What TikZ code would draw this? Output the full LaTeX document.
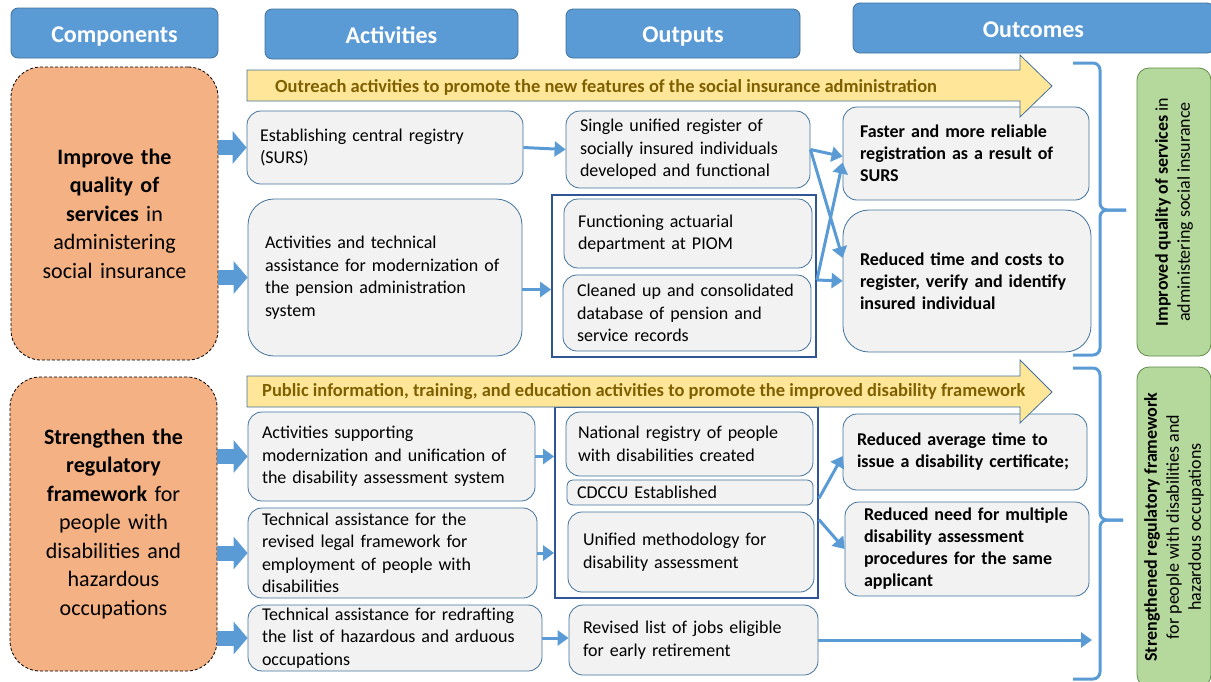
\documentclass[tikz,border=0pt]{standalone}
\usepackage{fontspec}
\setmainfont{Carlito}
\usepackage{tikz}
\usetikzlibrary{arrows.meta,positioning,calc}
\hyphenpenalty=10000
\definecolor{hdblue}{HTML}{5B9BD5}
\definecolor{hdline}{HTML}{41719C}
\definecolor{compfill}{HTML}{F4B183}
\definecolor{boxfill}{HTML}{F2F2F2}
\definecolor{grpline}{HTML}{2F5597}
\definecolor{banfill}{HTML}{FFE699}
\definecolor{bantext}{HTML}{7F6000}
\definecolor{goalfill}{HTML}{B5D89C}
\definecolor{goalline}{HTML}{5E8C46}
% A box given by its two corners: \pnode[inset]{name}{style}{x1}{y1}{x2}{y2}{text}
\newcommand*{\pnode}[8][14]{%
  \pgfmathsetmacro{\tw}{#6-#4-2*#1}%
  \pgfmathsetmacro{\bh}{#7-#5}%
  \node[#3,inner xsep=#1pt,inner ysep=0pt,text width=\tw pt,minimum height=\bh pt] (#2) at ({(#4+#6)/2},{(#5+#7)/2}) {#8};}

\begin{document}
\begin{tikzpicture}[x=1pt,y=-1pt,
  head/.style={rounded corners=7pt,fill=hdblue,draw=hdline,line width=0.8pt,text=white,align=center,font=\fontsize{24}{28}\selectfont\bfseries,execute at begin node={\rule[-3pt]{0pt}{25pt}}},
  comp/.style={rounded corners=30pt,fill=compfill,draw=black,densely dashed,line width=0.8pt,align=center,font=\fontsize{22}{28.5}\selectfont},
  act/.style={rounded corners=14pt,fill=boxfill,draw=hdline,line width=0.8pt,align=left,font=\fontsize{18}{22.5}\selectfont},
  outc/.style={act,font=\fontsize{18}{22}\selectfont\bfseries},
  grp/.style={draw=grpline,line width=1.8pt,fill=white},
  goal/.style={rounded corners=12pt,fill=goalfill,draw=goalline,line width=0.8pt,align=center,font=\fontsize{18}{22}\selectfont},
  banner/.style={fill=banfill,draw=hdline,line width=0.8pt},
  bantxt/.style={text=bantext,anchor=west,inner sep=0pt,font=\fontsize{18.5}{20}\selectfont\bfseries},
  flow/.style={draw=hdblue,line width=3pt,-{Triangle[length=11pt,width=15pt]}},
  fat/.style={draw=hdblue,line width=15pt,-{Triangle[length=14pt,width=32pt]}},
  brace/.style={draw=hdblue,line width=3pt,rounded corners=7pt}]
\useasboundingbox (0,0) rectangle (1211,681);
% Column headers
\pnode{components}{head}{11}{8}{218}{58}{Components}
\pnode{activities}{head}{265}{9}{518}{59}{Activities}
\pnode{outputs}{head}{566}{9}{800}{58}{Outputs}
\pnode{outcomes}{head}{853}{3}{1214}{53}{Outcomes}
% The two components
\pnode[6]{comp1}{comp}{11}{67}{218}{360}{\textbf{Improve the}\\\textbf{quality of}\\\textbf{services} in\\administering\\social insurance}
\pnode[6]{comp2}{comp}{10}{377}{217}{671}{\textbf{Strengthen the}\\\textbf{regulatory}\\\textbf{framework} for\\people with\\disabilities and\\hazardous\\occupations}
% Activities
\pnode[13]{a1}{act}{247}{111}{523}{184}{Establishing central registry\\(SURS)}
\pnode[17]{a2}{act,rounded corners=26pt}{248}{199}{522}{356}{Activities and technical\\assistance for modernization of\\the pension administration\\system}
\pnode{a3}{act}{248}{412}{535}{501}{Activities supporting\\modernization and unification of\\the disability assessment system}
\pnode{a4}{act}{248}{508}{537}{598}{Technical assistance for the\\revised legal framework for\\employment of people with\\disabilities}
\pnode{a5}{act}{248}{605}{542}{671}{Technical assistance for redrafting\\the list of hazardous and arduous\\occupations}
% Outputs, two of them grouped in a frame
\pnode{o1}{act}{566}{111}{810}{188}{Single unified register of\\socially insured individuals\\developed and functional}
\pnode{grp1}{grp}{552}{195}{816}{357}{}
\pnode{o2}{act}{564}{199}{812}{268}{Functioning actuarial\\department at PIOM}
\pnode{o3}{act}{563}{275}{811}{351}{Cleaned up and consolidated\\database of pension and\\service records}
\pnode{grp2}{grp}{555}{407}{818}{598}{}
\pnode[12]{o4}{act}{566}{412}{813}{476}{National registry of people\\with disabilities created}
\pnode[10]{o5}{act,rounded corners=6pt}{567}{480}{813}{505}{CDCCU Established}
\pnode[15]{o6}{act}{568}{512}{814}{592}{Unified methodology for\\disability assessment}
\pnode[14]{o7}{act}{569}{605}{818}{675}{Revised list of jobs eligible\\for early retirement}
% Outcomes
\pnode[17]{r1}{outc}{843}{107}{1089}{200}{Faster and more reliable\\registration as a result of\\SURS}
\pnode[17]{r2}{outc,rounded corners=26pt}{843}{210}{1091}{352}{Reduced time and costs to\\register, verify and identify\\insured individual}
\pnode[14]{r3}{outc}{843}{414}{1087}{490}{Reduced average time to\\issue a disability certificate;}
\pnode[19]{r4}{outc}{845}{502}{1089}{596}{Reduced need for multiple\\disability assessment\\procedures for the same\\applicant}
% Goals on the right, turned on their side
\node[goal,rotate=90,minimum width=288pt,minimum height=74pt,inner sep=0pt] (goal1) at (1174,212) {\textbf{Improved quality of services} in\\administering social insurance};
\node[goal,rotate=90,minimum width=320pt,minimum height=74pt,inner sep=0pt] (goal2) at (1174,527) {\textbf{Strengthened regulatory framework}\\for people with disabilities and\\hazardous occupations};
% Banners for the awareness activities
\draw[banner] (247,70) -- (1020,70) -- (1020,55) -- (1052,86) -- (1020,117) -- (1020,101) -- (247,101) -- cycle;
\node[bantxt] (outreach) at (275,87) {Outreach activities to promote the new features of the social insurance administration};
\draw[banner] (247,376) -- (1020,376) -- (1020,360) -- (1052,392) -- (1020,423) -- (1020,407) -- (247,407) -- cycle;
\node[bantxt] (publicinfo) at (262,392) {Public information, training, and education activities to promote the improved disability framework};
% Braces that gather the outcomes
\draw[brace] (1073,63) -- (1100,63) -- (1100,210) -- (1126,210);
\draw[brace] (1126,210) -- (1100,210) -- (1100,355) -- (1073,355);
\draw[brace] (1073,368) -- (1100,368) -- (1100,520) -- (1123,520);
\draw[brace] (1123,520) -- (1100,520) -- (1100,679) -- (1073,679);
\coordinate (brace2) at (1092,638);
% Fat arrows from components to activities
\draw[fat] (comp1.east |- a1.west) -- (a1.west);
\draw[fat] (comp1.east |- a2.west) -- (a2.west);
\draw[fat] (comp2.east |- a3.west) -- (a3.west);
\draw[fat] (comp2.east |- a4.west) -- (a4.west);
\draw[fat] (comp2.east |- a5.west) -- (a5.west);
% Thin arrows from activities to outputs
\draw[flow] (a1.east) -- (o1.west);
\draw[flow] ([yshift=-12pt]a2.east) -- ([yshift=-12pt]a2.east -| grp1.west);
\draw[flow] (a3.east) -- (a3.east -| grp2.west);
\draw[flow] (a4.east) -- (a4.east -| grp2.west);
\draw[flow] (a5.east) -- (a5.east -| o7.west);
% Outputs to outcomes, the crossing ones
\draw[flow] (o1.east) -- ([yshift=-3pt]r1.west);
\draw[flow] (o1.east) -- ([yshift=23pt]r2.west);
\draw[flow] ([yshift=-4pt]grp1.east) -- ([yshift=-9pt]r1.west);
\draw[flow] ([yshift=-4pt]grp1.east) -- (r2.west);
\draw[flow] ([yshift=4pt]grp2.east) -- ([yshift=-4pt]r3.west);
\draw[flow] ([yshift=-17pt]grp2.east) -- (r4.west);
\draw[flow] (o7.east) -- (o7.east -| brace2);
\end{tikzpicture}
\end{document}
